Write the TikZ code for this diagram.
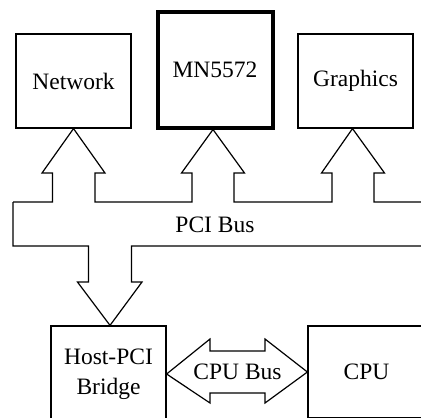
\documentclass[tikz,border=0pt]{standalone}
\usepackage{fontspec}
\setmainfont{Liberation Serif}
\usetikzlibrary{calc}

\begin{document}
\begin{tikzpicture}[
  x=0.5pt, y=-0.5pt,
  font=\fontsize{11.75}{14}\selectfont,
  box/.style={draw, line width=0.6pt, minimum width=57.5pt, minimum height=47pt, inner sep=0pt, align=center},
  bigbox/.style={box, line width=2pt, minimum width=57.5pt, minimum height=57.5pt},
  bus/.style={draw, line width=0.6pt, line join=miter}
]
\useasboundingbox (0,0) rectangle (421,417);
\clip (0,0) rectangle (421,417);

% Cards on the PCI bus
\node[box] (network) at (73.5,81) {Network};
\node[bigbox] (mn) at (215,70) {MN5572};
\node[box] (graphics) at (355.5,81) {Graphics};

% Host side
\node[box, minimum height=48pt] (bridge) at (108.5,374) {Host-PCI\\[1pt]Bridge};
\node[box, minimum width=58.5pt, minimum height=46pt] (cpu) at (366.5,372) {CPU};

% PCI bus with its three stubs (top edge)
\draw[bus] (13,202) -- (52.5,202) -- (52.5,173) -- (42,173) -- (network.south)
  -- (105,173) -- (95,173) -- (95,202)
  -- (192,202) -- (192,173) -- (181.5,173) -- ($(mn.south)+(-2,0)$)
  -- (244.5,173) -- (234,173) -- (234,202)
  -- (332,202) -- (332,173) -- (321.5,173) -- ($(graphics.south)+(-3,0)$)
  -- (384.5,173) -- (374,173) -- (374,202) -- (430,202);

% PCI bus bottom edge with stub down to the bridge
\draw[bus] (430,246) -- (131.5,246) -- (131.5,282) -- (142,282) -- ($(bridge.north)+(1.5,0)$)
  -- (77.5,282) -- (88.5,282) -- (88.5,246) -- (13,246) -- (13,202);
\node (pci) at (215,225) {PCI Bus};

% CPU bus double arrow
\draw[bus] (bridge.east) -- (210,339) -- (210,351) -- (265,351) -- (265,339) -- (cpu.west)
  -- (265,403) -- (265,393) -- (210,393) -- (210,403) -- cycle;
\node (cpubus) at (237.5,372) {CPU Bus};

\end{tikzpicture}
\end{document}
